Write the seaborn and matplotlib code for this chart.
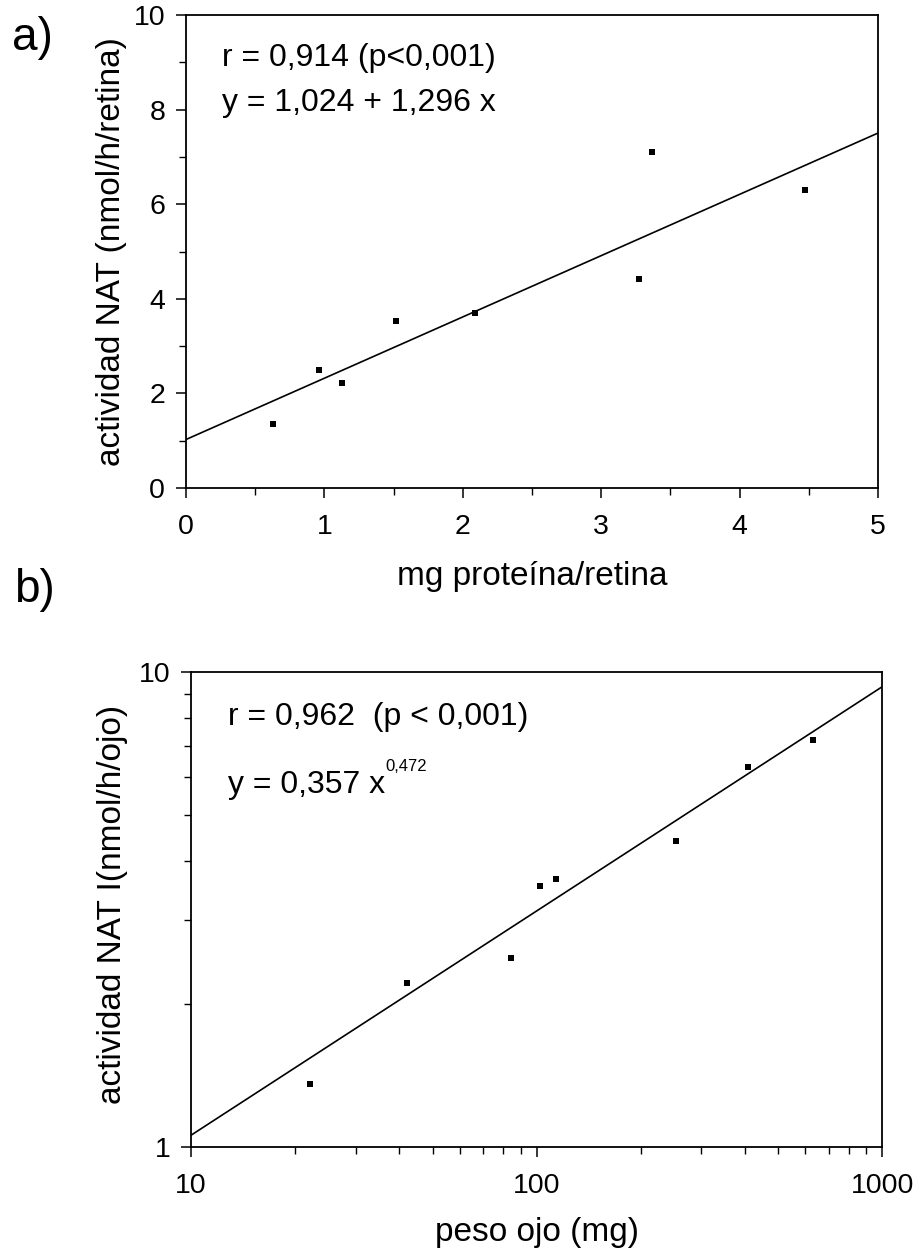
import numpy as np
import pandas as pd
import seaborn as sns
import matplotlib.pyplot as plt
from matplotlib.ticker import MultipleLocator, FixedLocator, FixedFormatter, LogLocator, NullFormatter

# panel a) NAT activity vs protein per retina
proteina = [0.63, 0.96, 1.13, 1.52, 2.09, 3.27, 3.37, 4.47]
nat_retina = [1.35, 2.49, 2.21, 3.52, 3.69, 4.41, 7.11, 6.31]
fit_a = [1.024, 1.296]          # intercept, slope
xrange_a = [0, 5]

# panel b) NAT activity vs eye weight (log-log)
peso_ojo = [22.1, 42.2, 84.4, 102, 114, 253, 409, 631]
nat_ojo = [1.36, 2.21, 2.50, 3.54, 3.67, 4.41, 6.31, 7.19]
fit_b = [0.357, 0.472]          # coefficient, exponent
xrange_b = [10, 1000]

sns.set_theme(style="ticks")
plt.rcParams['font.family'] = ['Liberation Sans', 'DejaVu Sans']
plt.rcParams['axes.linewidth'] = 1.3
plt.rcParams['xtick.direction'] = 'out'
plt.rcParams['ytick.direction'] = 'out'
for k in ('text.color', 'axes.labelcolor', 'xtick.color', 'ytick.color',
          'axes.edgecolor'):
    plt.rcParams[k] = 'black'

fig = plt.figure(figsize=(9.22, 12.55), dpi=100)
ax1 = fig.add_axes([0.2017, 0.6112, 0.7505, 0.3768])
ax2 = fig.add_axes([0.2072, 0.0861, 0.7495, 0.3785])

tick_fs = 20.5
lab_fs = 24
txt_fs = 23

# ---- panel a ----
df_a = pd.DataFrame({'x': proteina, 'y': nat_retina})
line_a = pd.DataFrame({'x': xrange_a,
                       'y': [fit_a[0] + fit_a[1] * v for v in xrange_a]})
sns.lineplot(data=line_a, x='x', y='y', color='black', lw=1.2, ax=ax1)
sns.scatterplot(data=df_a, x='x', y='y', marker='s', s=20, color='black',
                edgecolor='black', linewidth=0, ax=ax1)
ax1.set_xlim(0, 5)
ax1.set_ylim(0, 10)
ax1.xaxis.set_major_locator(MultipleLocator(1))
ax1.xaxis.set_minor_locator(MultipleLocator(0.5))
ax1.yaxis.set_major_locator(MultipleLocator(2))
ax1.yaxis.set_minor_locator(MultipleLocator(1))
ax1.set_xlabel('mg proteína/retina', fontsize=lab_fs)
ax1.set_ylabel('actividad NAT (nmol/h/retina)', fontsize=lab_fs)
ax1.xaxis.set_label_coords(0.5, -0.155)
ax1.yaxis.set_label_coords(-0.108, 0.5)
ax1.xaxis.label.set_va('top')
ax1.yaxis.label.set_va('center')
ax1.text(0.052, 0.91, 'r = 0,914 (p<0,001)', transform=ax1.transAxes,
         fontsize=txt_fs, va='center', ha='left')
ax1.text(0.052, 0.815, 'y = 1,024 + 1,296 x', transform=ax1.transAxes,
         fontsize=txt_fs, va='center', ha='left')

# ---- panel b ----
df_b = pd.DataFrame({'x': peso_ojo, 'y': nat_ojo})
line_b = pd.DataFrame({'x': xrange_b,
                       'y': [fit_b[0] * v ** fit_b[1] for v in xrange_b]})
sns.lineplot(data=line_b, x='x', y='y', color='black', lw=1.2, ax=ax2)
sns.scatterplot(data=df_b, x='x', y='y', marker='s', s=20, color='black',
                edgecolor='black', linewidth=0, ax=ax2)
ax2.set_xscale('log')
ax2.set_yscale('log')
ax2.set_xlim(10, 1000)
ax2.set_ylim(1, 10)
ax2.xaxis.set_major_locator(FixedLocator([10, 100, 1000]))
ax2.xaxis.set_major_formatter(FixedFormatter(['10', '100', '1000']))
ax2.xaxis.set_minor_locator(LogLocator(base=10, subs=np.arange(2, 10)))
ax2.xaxis.set_minor_formatter(NullFormatter())
ax2.yaxis.set_major_locator(FixedLocator([1, 10]))
ax2.yaxis.set_major_formatter(FixedFormatter(['1', '10']))
ax2.yaxis.set_minor_locator(LogLocator(base=10, subs=np.arange(2, 10)))
ax2.yaxis.set_minor_formatter(NullFormatter())
ax2.set_xlabel('peso ojo (mg)', fontsize=lab_fs)
ax2.set_ylabel('actividad NAT I(nmol/h/ojo)', fontsize=lab_fs)
ax2.xaxis.set_label_coords(0.5, -0.147)
ax2.yaxis.set_label_coords(-0.113, 0.51)
ax2.xaxis.label.set_va('top')
ax2.yaxis.label.set_va('center')
ax2.text(0.054, 0.906, 'r = 0,962  (p < 0,001)', transform=ax2.transAxes,
         fontsize=txt_fs, va='center', ha='left')
t = ax2.text(0.054, 0.763, 'y = 0,357 x', transform=ax2.transAxes,
             fontsize=txt_fs, va='center', ha='left')
ax2.annotate('0,472', xy=(1, 0.85), xycoords=t, fontsize=12,
             va='bottom', ha='left')

for ax in (ax1, ax2):
    for sp in ax.spines.values():
        sp.set_visible(True)
        sp.set_color('black')
    ax.tick_params(which='major', length=7, width=1.1, labelsize=tick_fs,
                   colors='black')
    ax.tick_params(which='minor', length=5, width=1.0, colors='black')
    ax.tick_params(axis='x', which='major', pad=12)
    ax.tick_params(axis='y', which='major', pad=8)
    ax.grid(False)

fig.text(0.013, 0.97, 'a)', fontsize=33, va='center', ha='left')
fig.text(0.015, 0.53, 'b)', fontsize=33, va='center', ha='left')

plt.savefig('out.png', dpi=100)
